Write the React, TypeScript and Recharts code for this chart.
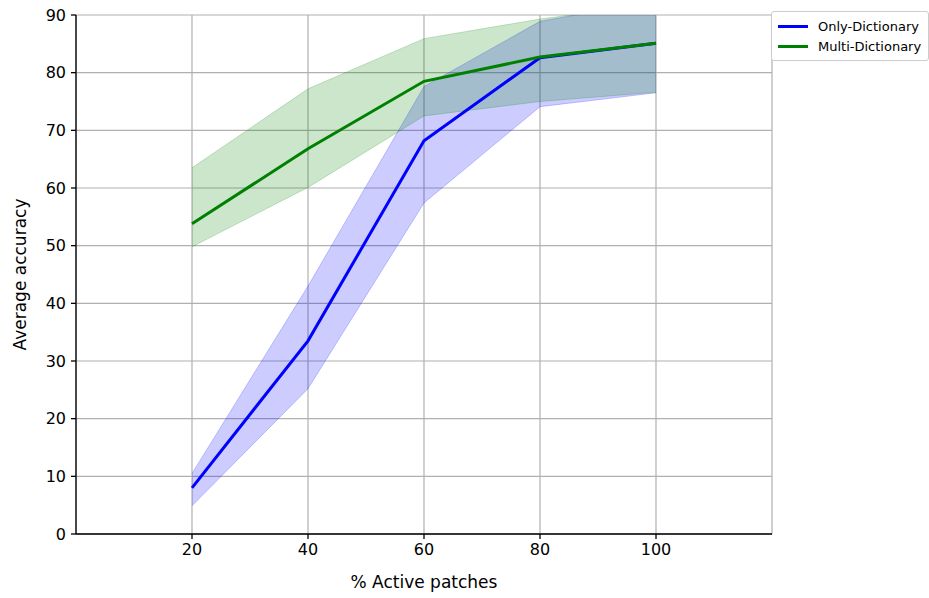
import { ComposedChart, Area, Line, XAxis, YAxis, CartesianGrid, Legend } from 'recharts';

const patches = [20, 40, 60, 80, 100];
const onlyMean = [8, 33.5, 68.2, 82.6, 85.1];
const onlyLow = [4.9, 25.2, 57.4, 74.1, 76.5];
const onlyHigh = [10.5, 43, 77.6, 88.9, 92.5];
const multiMean = [53.8, 66.8, 78.5, 82.7, 85.1];
const multiLow = [49.8, 60.1, 72.5, 75, 76.6];
const multiHigh = [63.5, 77.2, 85.9, 89.3, 92];
const yTicks = [0, 10, 20, 30, 40, 50, 60, 70, 80, 90];

const data = patches.map((p, i) => ({
  x: p,
  only: onlyMean[i],
  onlyBand: [onlyLow[i], onlyHigh[i]],
  multi: multiMean[i],
  multiBand: [multiLow[i], multiHigh[i]],
}));

const font = '"DejaVu Sans", sans-serif';

function LegendBox() {
  const rows = [
    { name: 'Only-Dictionary', color: '#0000ff' },
    { name: 'Multi-Dictionary', color: '#008000' },
  ];
  return (
    <div
      style={{
        border: '1px solid #cccccc',
        borderRadius: 3,
        background: '#fff',
        padding: '4px 6px',
        fontFamily: font,
        fontSize: 13,
        color: '#000',
      }}
    >
      {rows.map((r) => (
        <div key={r.name} style={{ display: 'flex', alignItems: 'center', height: 20 }}>
          <span style={{ display: 'inline-block', width: 30, height: 3, background: r.color, marginRight: 10 }} />
          {r.name}
        </div>
      ))}
    </div>
  );
}

export default function App() {
  return (
    <div style={{ position: 'absolute', left: 0, top: 0, width: 929, height: 598, background: '#fff' }}>
      <ComposedChart width={929} height={598} data={data} margin={{ top: 15, right: 157, bottom: 0, left: 0 }}>
        <CartesianGrid stroke="#b0b0b0" strokeWidth={1.2} />
        <XAxis
          dataKey="x"
          type="number"
          domain={[0, 120]}
          ticks={patches}
          allowDataOverflow
          height={64}
          stroke="#000"
          strokeWidth={1.3}
          tickSize={5}
          tickMargin={5}
          tick={{ fill: '#000', fontSize: 16, fontFamily: font }}
          label={{ value: '% Active patches', position: 'insideBottom', offset: 10, fill: '#000', fontSize: 17, fontFamily: font }}
        />
        <XAxis xAxisId="top" orientation="top" dataKey="x" type="number" domain={[0, 120]} height={0} tick={false} tickLine={false} stroke="#000" strokeWidth={1.3} />
        <YAxis
          domain={[0, 90]}
          ticks={yTicks}
          allowDataOverflow
          width={76}
          stroke="#000"
          strokeWidth={1.3}
          tickSize={5}
          tickMargin={5}
          tick={{ fill: '#000', fontSize: 16, fontFamily: font }}
          label={{ value: 'Average accuracy', angle: -90, position: 'insideLeft', offset: 20, fill: '#000', fontSize: 17, fontFamily: font, style: { textAnchor: 'middle' } }}
        />
        <YAxis yAxisId="right" orientation="right" domain={[0, 90]} width={0} tick={false} tickLine={false} stroke="#000" strokeWidth={1.3} />
        <Area type="linear" dataKey="onlyBand" fill="#0000ff" fillOpacity={0.2} stroke="#0000ff" strokeOpacity={0.2} isAnimationActive={false} />
        <Line type="linear" dataKey="only" stroke="#0000ff" strokeWidth={3} dot={false} isAnimationActive={false} />
        <Area type="linear" dataKey="multiBand" fill="#008000" fillOpacity={0.2} stroke="#008000" strokeOpacity={0.2} isAnimationActive={false} />
        <Line type="linear" dataKey="multi" stroke="#008000" strokeWidth={3} dot={false} isAnimationActive={false} />
        <Legend
          layout="vertical"
          align="center"
          verticalAlign="middle"
          content={() => <LegendBox />}
          wrapperStyle={{ left: 771, top: 11, width: 158 }}
        />
      </ComposedChart>
    </div>
  );
}
